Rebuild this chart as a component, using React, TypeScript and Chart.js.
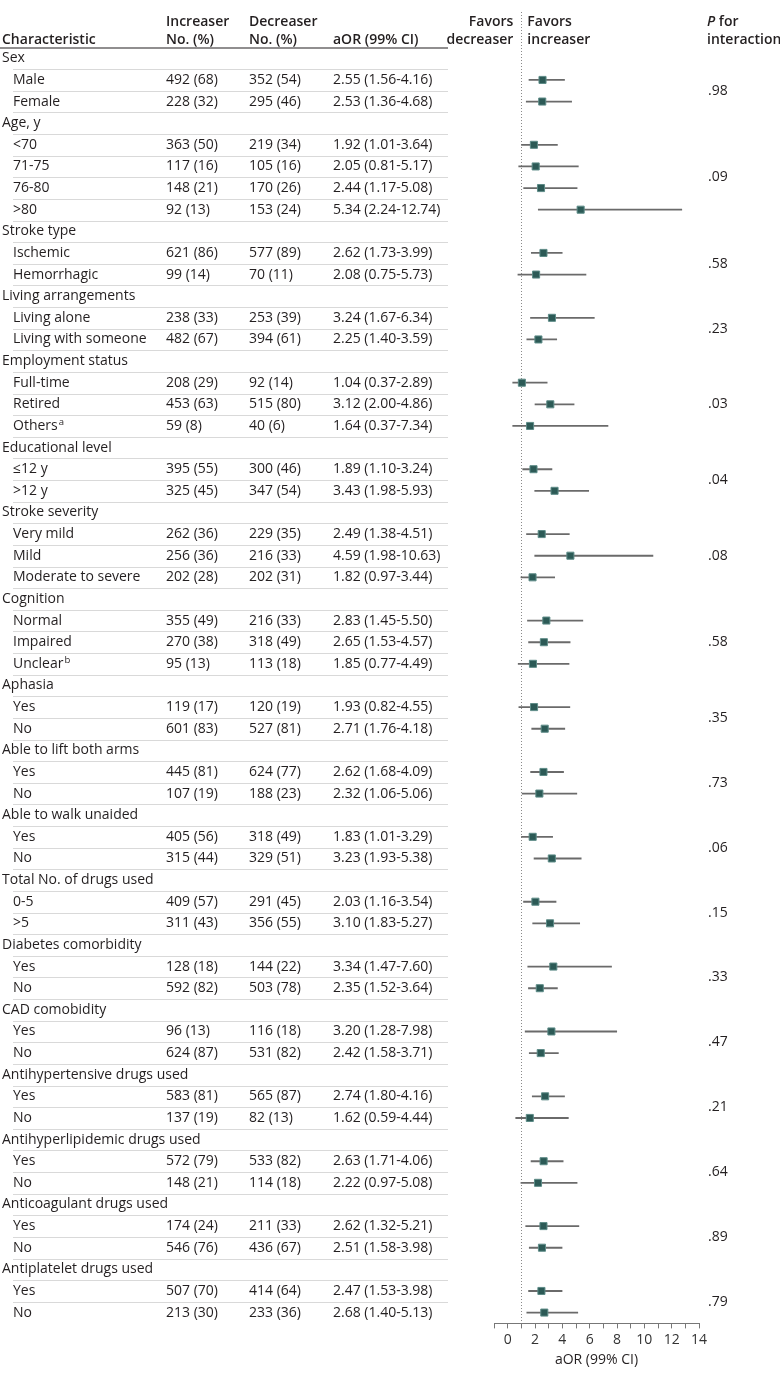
import React, { useEffect, useRef } from 'react';
import { Chart, registerables } from 'chart.js';

Chart.register(...registerables);

// ---------- data ----------
const groupNames: string[] = [
  'Sex',
  'Age, y',
  'Stroke type',
  'Living arrangements',
  'Employment status',
  'Educational level',
  'Stroke severity',
  'Cognition',
  'Aphasia',
  'Able to lift both arms',
  'Able to walk unaided',
  'Total No. of drugs used',
  'Diabetes comorbidity',
  'CAD comobidity',
  'Antihypertensive drugs used',
  'Antihyperlipidemic drugs used',
  'Anticoagulant drugs used',
  'Antiplatelet drugs used',
];

const groupSizes: number[] = [2, 4, 2, 2, 3, 2, 3, 3, 2, 2, 2, 2, 2, 2, 2, 2, 2, 2];

const pInteraction: string[] = [
  '.98', '.09', '.58', '.23', '.03', '.04', '.08', '.58', '.35',
  '.73', '.06', '.15', '.33', '.47', '.21', '.64', '.89', '.79',
];

const subgroupLabels: string[] = [
  'Male', 'Female',
  '<70', '71-75', '76-80', '>80',
  'Ischemic', 'Hemorrhagic',
  'Living alone', 'Living with someone',
  'Full-time', 'Retired', 'Others^a',
  '≤12 y', '>12 y',
  'Very mild', 'Mild', 'Moderate to severe',
  'Normal', 'Impaired', 'Unclear^b',
  'Yes', 'No',
  'Yes', 'No',
  'Yes', 'No',
  '0-5', '>5',
  'Yes', 'No',
  'Yes', 'No',
  'Yes', 'No',
  'Yes', 'No',
  'Yes', 'No',
  'Yes', 'No',
];

const increaserN: number[] = [
  492, 228, 363, 117, 148, 92, 621, 99, 238, 482, 208, 453, 59, 395, 325,
  262, 256, 202, 355, 270, 95, 119, 601, 445, 107, 405, 315, 409, 311, 128,
  592, 96, 624, 583, 137, 572, 148, 174, 546, 507, 213,
];
const increaserPct: number[] = [
  68, 32, 50, 16, 21, 13, 86, 14, 33, 67, 29, 63, 8, 55, 45,
  36, 36, 28, 49, 38, 13, 17, 83, 81, 19, 56, 44, 57, 43, 18,
  82, 13, 87, 81, 19, 79, 21, 24, 76, 70, 30,
];
const decreaserN: number[] = [
  352, 295, 219, 105, 170, 153, 577, 70, 253, 394, 92, 515, 40, 300, 347,
  229, 216, 202, 216, 318, 113, 120, 527, 624, 188, 318, 329, 291, 356, 144,
  503, 116, 531, 565, 82, 533, 114, 211, 436, 414, 233,
];
const decreaserPct: number[] = [
  54, 46, 34, 16, 26, 24, 89, 11, 39, 61, 14, 80, 6, 46, 54,
  35, 33, 31, 33, 49, 18, 19, 81, 77, 23, 49, 51, 45, 55, 22,
  78, 18, 82, 87, 13, 82, 18, 33, 67, 64, 36,
];
const aOR: number[] = [
  2.55, 2.53, 1.92, 2.05, 2.44, 5.34, 2.62, 2.08, 3.24, 2.25, 1.04, 3.12, 1.64, 1.89, 3.43,
  2.49, 4.59, 1.82, 2.83, 2.65, 1.85, 1.93, 2.71, 2.62, 2.32, 1.83, 3.23, 2.03, 3.10, 3.34,
  2.35, 3.20, 2.42, 2.74, 1.62, 2.63, 2.22, 2.62, 2.51, 2.47, 2.68,
];
const ciLower: number[] = [
  1.56, 1.36, 1.01, 0.81, 1.17, 2.24, 1.73, 0.75, 1.67, 1.40, 0.37, 2.00, 0.37, 1.10, 1.98,
  1.38, 1.98, 0.97, 1.45, 1.53, 0.77, 0.82, 1.76, 1.68, 1.06, 1.01, 1.93, 1.16, 1.83, 1.47,
  1.52, 1.28, 1.58, 1.80, 0.59, 1.71, 0.97, 1.32, 1.58, 1.53, 1.40,
];
const ciUpper: number[] = [
  4.16, 4.68, 3.64, 5.17, 5.08, 12.74, 3.99, 5.73, 6.34, 3.59, 2.89, 4.86, 7.34, 3.24, 5.93,
  4.51, 10.63, 3.44, 5.50, 4.57, 4.49, 4.55, 4.18, 4.09, 5.06, 3.29, 5.38, 3.54, 5.27, 7.60,
  3.64, 7.98, 3.71, 4.16, 4.44, 4.06, 5.08, 5.21, 3.98, 3.98, 5.13,
];

const xMin = -1;
const xMax = 14;

// ---------- style ----------
const FONT = '"Open Sans", "Noto Sans", sans-serif';
const FS = 14;
const TEXT = '#231f20';
const COL_GROUP = 2;
const COL_SUB = 13;
const COL_INC = 166;
const COL_DEC = 249;
const COL_AOR = 333;
const TABLE_RIGHT = 448;
const COL_P = 707;

type Row = { label: string; sup: string; isGroup: boolean; k: number; g: number };

function buildRows(): Row[] {
  const rows: Row[] = [];
  let k = 0;
  groupNames.forEach((name, g) => {
    rows.push({ label: name, sup: '', isGroup: true, k: -1, g });
    for (let j = 0; j < groupSizes[g]; j++) {
      const [lab, sup] = subgroupLabels[k].split('^');
      rows.push({ label: lab, sup: sup || '', isGroup: false, k, g });
      k++;
    }
  });
  return rows;
}

const fmt = (v: number) => v.toFixed(2);

export default function App() {
  const ref = useRef<HTMLCanvasElement>(null);

  useEffect(() => {
    if (!ref.current) return;
    const rows = buildRows();

    const tablePlugin = {
      id: 'forestTable',
      beforeDatasetsDraw(chart: any) {
        const { ctx, chartArea, scales } = chart;
        const y = scales.y;
        const x = scales.x;
        ctx.save();
        // row separators
        ctx.strokeStyle = '#d9d9d9';
        ctx.lineWidth = 1;
        for (let i = 0; i < rows.length - 1; i++) {
          const yy = Math.round((y.getPixelForValue(i) + y.getPixelForValue(i + 1)) / 2) + 0.5;
          ctx.beginPath();
          ctx.moveTo(COL_SUB, yy);
          ctx.lineTo(TABLE_RIGHT, yy);
          ctx.stroke();
        }
        // header underline
        ctx.strokeStyle = '#231f20';
        ctx.lineWidth = 1.2;
        ctx.beginPath();
        ctx.moveTo(0, chartArea.top + 0.5);
        ctx.lineTo(TABLE_RIGHT, chartArea.top + 0.5);
        ctx.stroke();
        // reference line at 1
        const x1 = Math.round(x.getPixelForValue(1)) + 0.5;
        ctx.strokeStyle = '#8a8a8a';
        ctx.lineWidth = 1;
        ctx.setLineDash([1, 2]);
        ctx.beginPath();
        ctx.moveTo(x1, 12);
        ctx.lineTo(x1, chartArea.bottom);
        ctx.stroke();
        ctx.restore();
      },
      afterDraw(chart: any) {
        const { ctx, scales } = chart;
        const y = scales.y;
        const x = scales.x;
        ctx.save();
        ctx.fillStyle = TEXT;
        ctx.textBaseline = 'middle';
        const reg = `${FS}px ${FONT}`;
        const bold = `600 ${FS}px ${FONT}`;

        // headers
        ctx.font = bold;
        ctx.textAlign = 'left';
        ctx.fillText('Characteristic', COL_GROUP, 40);
        ctx.fillText('Increaser', COL_INC, 22);
        ctx.fillText('No. (%)', COL_INC, 40);
        ctx.fillText('Decreaser', COL_DEC, 22);
        ctx.fillText('No. (%)', COL_DEC, 40);
        ctx.fillText('aOR (99% CI)', COL_AOR, 40);
        const x1 = x.getPixelForValue(1);
        ctx.textAlign = 'right';
        ctx.fillText('Favors', x1 - 8, 22);
        ctx.fillText('decreaser', x1 - 8, 40);
        ctx.textAlign = 'left';
        ctx.fillText('Favors', x1 + 6, 22);
        ctx.fillText('increaser', x1 + 6, 40);
        ctx.font = `italic 600 ${FS}px ${FONT}`;
        ctx.fillText('P', COL_P, 22);
        const pw = ctx.measureText('P').width;
        ctx.font = bold;
        ctx.fillText(' for', COL_P + pw, 22);
        ctx.fillText('interaction', COL_P, 40);

        // rows
        ctx.font = reg;
        const pY: number[][] = groupNames.map(() => []);
        rows.forEach((r, i) => {
          const yy = y.getPixelForValue(i);
          ctx.textAlign = 'left';
          ctx.font = reg;
          if (r.isGroup) {
            ctx.fillText(r.label, COL_GROUP, yy);
            return;
          }
          pY[r.g].push(yy);
          ctx.fillText(r.label, COL_SUB, yy);
          if (r.sup) {
            const w = ctx.measureText(r.label).width;
            ctx.font = `${FS * 0.68}px ${FONT}`;
            ctx.fillText(r.sup, COL_SUB + w + 1, yy - 4);
            ctx.font = reg;
          }
          const k = r.k;
          ctx.fillText(`${increaserN[k]} (${increaserPct[k]})`, COL_INC, yy);
          ctx.fillText(`${decreaserN[k]} (${decreaserPct[k]})`, COL_DEC, yy);
          ctx.fillText(`${fmt(aOR[k])} (${fmt(ciLower[k])}-${fmt(ciUpper[k])})`, COL_AOR, yy);
        });
        // P for interaction
        ctx.font = reg;
        ctx.textAlign = 'left';
        pY.forEach((ys, g) => {
          const mid = ys.reduce((a, b) => a + b, 0) / ys.length;
          ctx.fillText(pInteraction[g], COL_P + 1, mid);
        });
        ctx.restore();
      },
    };

    const chart = new Chart(ref.current, {
      type: 'bar',
      data: {
        labels: rows.map((_, i) => String(i)),
        datasets: [
          {
            type: 'bar',
            indexAxis: 'y',
            data: rows.map((r) => (r.isGroup ? null : [ciLower[r.k], ciUpper[r.k]])) as any,
            backgroundColor: '#6a6a6a',
            borderWidth: 0,
            barThickness: 1.2,
            order: 2,
          } as any,
          {
            type: 'line',
            indexAxis: 'y',
            data: rows.map((r) => (r.isGroup ? null : aOR[r.k])) as any,
            showLine: false,
            pointStyle: 'rect',
            pointRadius: 5,
            pointHoverRadius: 5,
            pointBackgroundColor: '#2c5a56',
            pointBorderColor: '#5e8c88',
            pointBorderWidth: 1,
            order: 1,
          } as any,
        ],
      },
      options: {
        indexAxis: 'y',
        animation: false,
        responsive: true,
        maintainAspectRatio: false,
        events: [],
        layout: { padding: { left: 494, right: 81, top: 47.5, bottom: 8 } },
        plugins: {
          legend: { display: false },
          tooltip: { enabled: false },
          title: { display: false },
        },
        scales: {
          y: {
            type: 'category',
            display: false,
            offset: true,
            grid: { offset: true },
          },
          x: {
            type: 'linear',
            position: 'bottom',
            min: xMin,
            max: xMax,
            ticks: {
              stepSize: 1,
              autoSkip: false,
              maxRotation: 0,
              padding: 3,
              color: '#333',
              font: { family: FONT, size: FS },
              callback: (v: any) => (Number(v) >= 0 && Number(v) % 2 === 0 ? String(v) : ''),
            },
            grid: {
              drawOnChartArea: false,
              drawTicks: true,
              tickLength: 5,
              color: '#777',
              lineWidth: 1,
            },
            border: { display: true, color: '#777', width: 1 },
            title: {
              display: true,
              text: 'aOR (99% CI)',
              color: TEXT,
              font: { family: FONT, size: FS },
              padding: { top: 0, bottom: 0 },
            },
          },
        },
      } as any,
      plugins: [tablePlugin],
    });

    return () => chart.destroy();
  }, []);

  return (
    <div style={{ position: 'absolute', left: 0, top: 0, width: 780, height: 1376, background: '#fff' }}>
      <canvas ref={ref} />
    </div>
  );
}
